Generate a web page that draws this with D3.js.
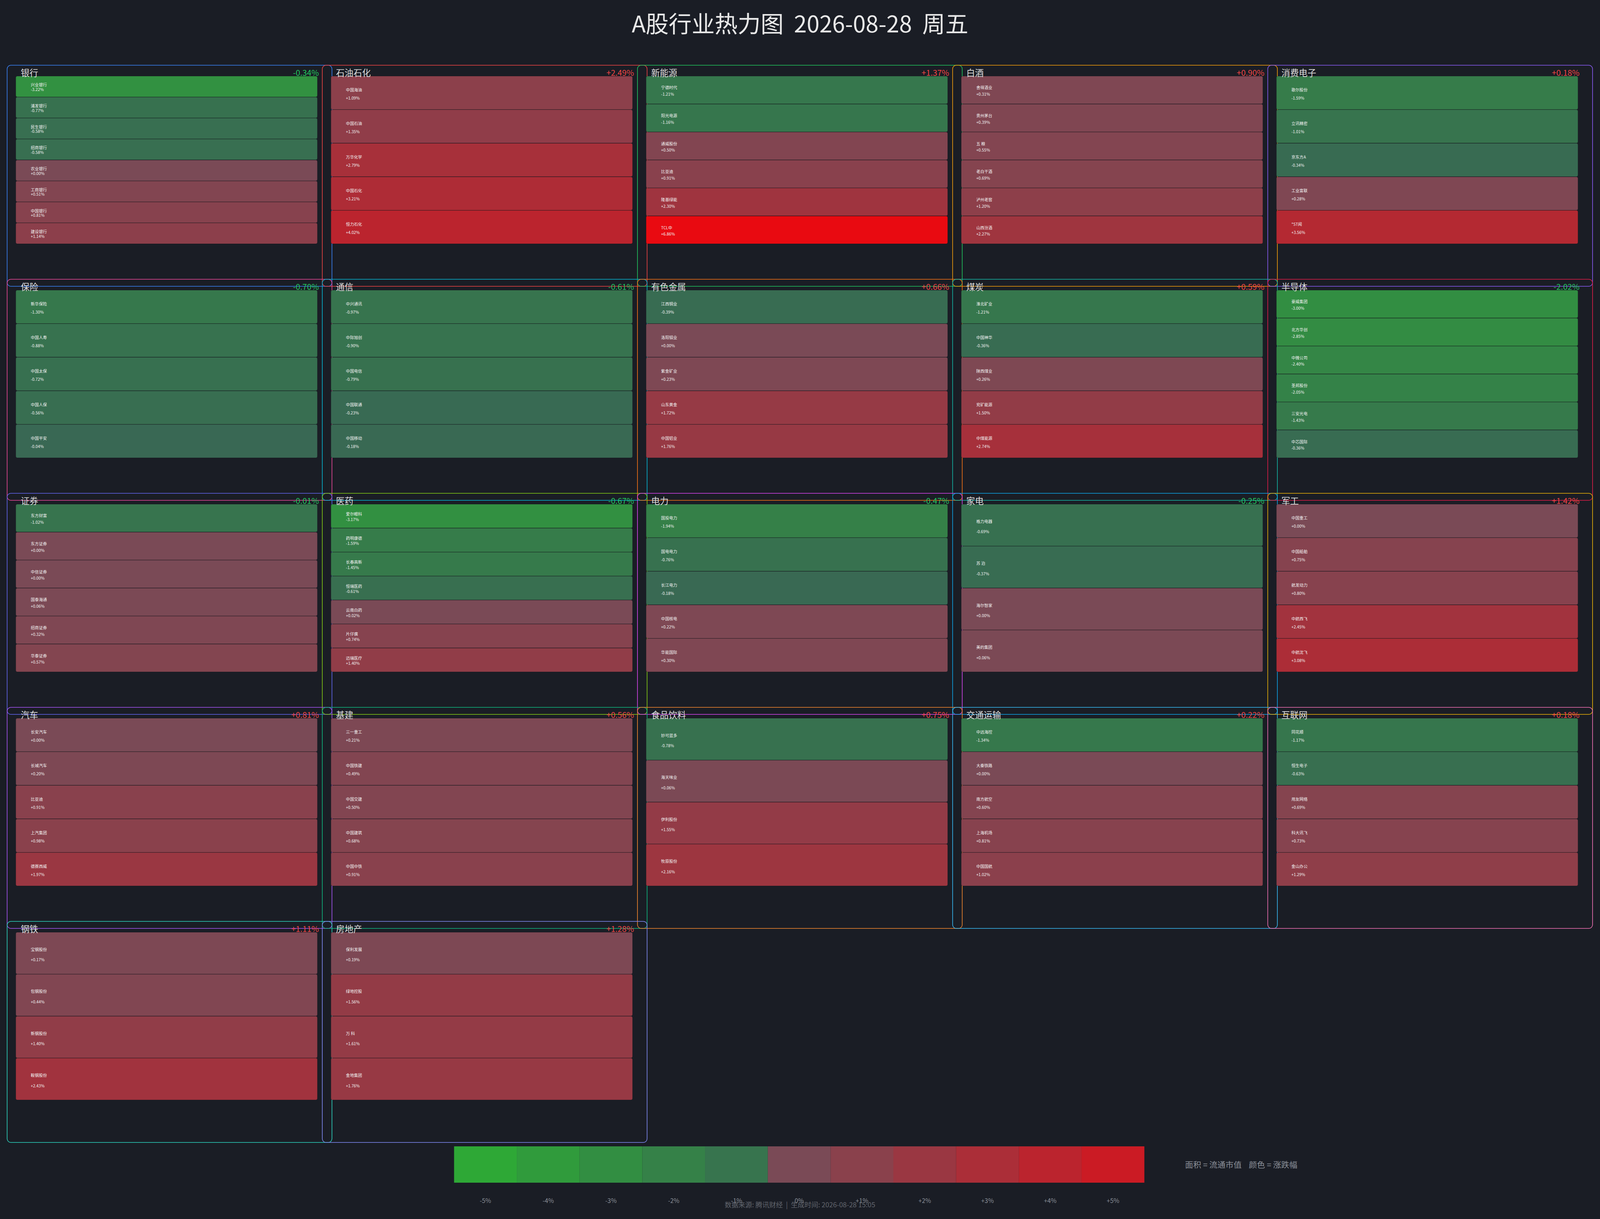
<!DOCTYPE html>
<html>
<head>
<meta charset="utf-8">
<script src="https://cdn.jsdelivr.net/npm/d3@7"></script>
<style>
    html, body { margin:0; padding:0; background:#1a1d25; overflow:hidden; }
    svg { display:block; width:100vw; height:100vh; font-family:"Noto Sans CJK SC","Noto Sans",sans-serif; }
</style>
</head>
<body>
<svg id="chart"></svg>
<script>
// sectors, row by row, 5 per row
var sectorNames = ["银行","石油石化","新能源","白酒","消费电子",
    "保险","通信","有色金属","煤炭","半导体",
    "证券","医药","电力","家电","军工",
    "汽车","基建","食品饮料","交通运输","互联网",
    "钢铁","房地产"];

var sectorChanges = [-0.34, 2.49, 1.37, 0.90, 0.18,
    -0.70, -0.61, 0.66, 0.59, -2.02,
    -0.01, -0.67, -0.47, -0.25, 1.42,
    0.81, 0.56, 0.75, 0.22, 0.18,
    1.11, 1.28];

var stockNames = [
    ["兴业银行","浦发银行","民生银行","招商银行","农业银行","工商银行","中国银行","建设银行"],
    ["中国海油","中国石油","万华化学","中国石化","恒力石化"],
    ["宁德时代","阳光电源","通威股份","比亚迪","隆基绿能","TCL中"],
    ["舍得酒业","贵州茅台","五 粮","老白干酒","泸州老窖","山西汾酒"],
    ["歌尔股份","立讯精密","京东方A","工业富联","*ST闻"],
    ["新华保险","中国人寿","中国太保","中国人保","中国平安"],
    ["中兴通讯","中际旭创","中国电信","中国联通","中国移动"],
    ["江西铜业","洛阳钼业","紫金矿业","山东黄金","中国铝业"],
    ["淮北矿业","中国神华","陕西煤业","兖矿能源","中煤能源"],
    ["豪威集团","北方华创","中微公司","圣邦股份","三安光电","中芯国际"],
    ["东方财富","东方证券","中信证券","国泰海通","招商证券","华泰证券"],
    ["爱尔眼科","药明康德","长春高新","恒瑞医药","云南白药","片仔癀","迈瑞医疗"],
    ["国投电力","国电电力","长江电力","中国核电","华能国际"],
    ["格力电器","苏 泊","海尔智家","美的集团"],
    ["中国重工","中国船舶","航发动力","中航西飞","中航沈飞"],
    ["长安汽车","长城汽车","比亚迪","上汽集团","德赛西威"],
    ["三一重工","中国铁建","中国交建","中国建筑","中国中铁"],
    ["妙可蓝多","海天味业","伊利股份","牧原股份"],
    ["中远海控","大秦铁路","南方航空","上海机场","中国国航"],
    ["同花顺","恒生电子","用友网络","科大讯飞","金山办公"],
    ["宝钢股份","包钢股份","新钢股份","鞍钢股份"],
    ["保利发展","绿地控股","万 科","金地集团"]
];

var stockChanges = [
    [-3.22, -0.77, -0.58, -0.58, 0.00, 0.51, 0.81, 1.14],
    [1.09, 1.35, 2.79, 3.21, 4.02],
    [-1.21, -1.16, 0.50, 0.91, 2.30, 6.86],
    [0.31, 0.39, 0.55, 0.69, 1.20, 2.27],
    [-1.59, -1.01, -0.34, 0.28, 3.56],
    [-1.30, -0.88, -0.72, -0.56, -0.04],
    [-0.97, -0.90, -0.79, -0.23, -0.18],
    [-0.39, 0.00, 0.23, 1.72, 1.76],
    [-1.21, -0.36, 0.26, 1.50, 2.74],
    [-3.00, -2.85, -2.40, -2.05, -1.43, -0.36],
    [-1.02, 0.00, 0.00, 0.06, 0.32, 0.57],
    [-3.17, -1.59, -1.45, -0.61, 0.02, 0.74, 1.40],
    [-1.94, -0.76, -0.18, 0.22, 0.30],
    [-0.69, -0.37, 0.00, 0.06],
    [0.00, 0.75, 0.80, 2.45, 3.08],
    [0.00, 0.20, 0.91, 0.98, 1.97],
    [0.21, 0.49, 0.50, 0.68, 0.91],
    [-0.78, 0.06, 1.55, 2.16],
    [-1.34, 0.00, 0.60, 0.81, 1.02],
    [-1.17, -0.63, 0.69, 0.73, 1.29],
    [0.17, 0.44, 1.40, 2.43],
    [0.19, 1.56, 1.61, 1.76]
];

var legendTicks = [-5, -4, -3, -2, -1, 0, 1, 2, 3, 4, 5];

var titleText = "A股行业热力图  2026-08-28  周五";
var footerText = "数据来源: 腾讯财经  |  生成时间: 2026-08-28 15:05";
var legendNote = "面积 = 流通市值    颜色 = 涨跌幅";

// border colour per sector panel
var borderColors = ["#3b82f6","#ef4444","#22c55e","#f59e0b","#8b5cf6",
    "#ec4899","#06b6d4","#f97316","#14b8a6","#e11d48",
    "#6366f1","#84cc16","#d946ef","#0ea5e9","#eab308",
    "#a855f7","#10b981","#f7882f","#38bdf8","#f472b6",
    "#2dd4bf","#818cf8"];

var screen = {width:5148, height:3121};
var grid = {left:23, top:167, stepX:1014, stepY:548, panelW:1045, panelH:566, cols:5};
var inner = {left:28, top:28, width:970, height:429};

// keep the page filling the window: x follows the width, y is spread over the real height
var viewH = screen.width * window.innerHeight / window.innerWidth;
var yPos = d3.scaleLinear().domain([0, screen.height]).range([0, viewH]);

var greenScale = d3.scaleLinear().domain([0,-5]).range(["#396754","#2ea836"]);
var redScale = d3.scaleLinear().domain([0,5]).range(["#7a4a56","#cb1b24"]);
var colorOf = function(p)
{
    return p < 0 ? greenScale(p) : redScale(p);
};

var fmt = function(p)
{
    return (p >= 0 ? "+" : "") + p.toFixed(2) + "%";
};

var colX = d3.scaleLinear().domain([0,1]).range([grid.left, grid.left+grid.stepX]);
var rowY = d3.scaleLinear().domain([0,1]).range([yPos(grid.top), yPos(grid.top+grid.stepY)]);

var svg = d3.select("#chart")
    .attr("viewBox", "0 0 "+screen.width+" "+viewH)
    .attr("preserveAspectRatio", "xMidYMid meet");

svg.append("text")
    .attr("x", screen.width/2)
    .attr("y", yPos(57))
    .attr("dominant-baseline", "central")
    .attr("text-anchor", "middle")
    .attr("fill", "#e8e8e8")
    .attr("font-size", 74)
    .style("white-space", "pre")
    .text(titleText);

var sectors = sectorNames.map(function(name, i)
{
    return {
        name:name,
        change:sectorChanges[i],
        color:borderColors[i],
        x:colX(i % grid.cols),
        y:rowY(Math.floor(i / grid.cols)),
        stocks:stockNames[i].map(function(s, j) { return {name:s, change:stockChanges[i][j]}; })
    };
});

// panel borders first, everything else on top
svg.append("g")
    .selectAll("rect")
    .data(sectors)
    .enter()
    .append("rect")
    .attr("x", function(d) { return d.x; })
    .attr("y", function(d) { return d.y; })
    .attr("width", grid.panelW)
    .attr("height", yPos(grid.panelH))
    .attr("rx", 12)
    .attr("ry", 12)
    .attr("fill", "none")
    .attr("stroke", function(d) { return d.color; })
    .attr("stroke-width", 2);

var treemap = d3.treemap()
    .tile(d3.treemapSlice)
    .size([inner.width, yPos(inner.height)])
    .paddingInner(1);

var panels = svg.append("g")
    .selectAll("g")
    .data(sectors)
    .enter()
    .append("g")
    .attr("transform", function(d) { return "translate("+(d.x+inner.left)+","+(d.y+yPos(inner.top))+")"; });

panels.each(function(sector)
{
    // every stock gets the same area in the picture
    var root = d3.hierarchy({children:sector.stocks}).sum(function(d) { return d.children ? 0 : 1; });
    treemap(root);

    var leaves = d3.select(this)
        .selectAll("g.leaf")
        .data(root.leaves())
        .enter()
        .append("g")
        .classed("leaf", true);

    leaves.append("rect")
        .attr("x", function(d) { return d.x0; })
        .attr("y", function(d) { return d.y0; })
        .attr("width", function(d) { return d.x1 - d.x0; })
        .attr("height", function(d) { return d.y1 - d.y0; })
        .attr("rx", 5)
        .attr("ry", 5)
        .attr("fill", function(d) { return colorOf(d.data.change); })
        .attr("stroke", "rgba(0,0,0,0.18)")
        .attr("stroke-width", 1);

    leaves.append("text")
        .attr("x", function(d) { return d.x0 + 48; })
        .attr("y", function(d) { return d.y0 + 0.404*(d.y1-d.y0) + 0.4; })
        .attr("dominant-baseline", "central")
        .attr("fill", "#f2f2f2")
        .attr("font-size", 13)
        .style("white-space", "pre")
        .text(function(d) { return d.data.name; });

    leaves.append("text")
        .attr("x", function(d) { return d.x0 + 48; })
        .attr("y", function(d) { return d.y0 + 0.683*(d.y1-d.y0) - 3.6; })
        .attr("dominant-baseline", "central")
        .attr("fill", "#f2f2f2")
        .attr("font-size", 13)
        .text(function(d) { return fmt(d.data.change); });
});

// sector headers
var headers = svg.append("g")
    .selectAll("g")
    .data(sectors)
    .enter()
    .append("g");

headers.append("text")
    .attr("x", function(d) { return d.x + 44; })
    .attr("y", function(d) { return d.y + yPos(28); })
    .attr("fill", "#dedede")
    .attr("font-size", 28)
    .text(function(d) { return d.name; });

headers.append("text")
    .attr("x", function(d) { return d.x + 1003; })
    .attr("y", function(d) { return d.y + yPos(27); })
    .attr("text-anchor", "end")
    .attr("fill", function(d) { return d.change < 0 ? "#22c55e" : "#ef4444"; })
    .attr("font-size", 26)
    .text(function(d) { return fmt(d.change); });

// legend
var legendX = d3.scaleBand()
    .domain(legendTicks)
    .range([1461, 3682]);

var legend = svg.append("g");

legend.selectAll("rect")
    .data(legendTicks)
    .enter()
    .append("rect")
    .attr("x", function(d) { return legendX(d); })
    .attr("y", yPos(2935))
    .attr("width", legendX.bandwidth())
    .attr("height", yPos(93))
    .attr("fill", function(d) { return colorOf(d); });

legend.selectAll("text.tick")
    .data(legendTicks)
    .enter()
    .append("text")
    .classed("tick", true)
    .attr("x", function(d) { return legendX(d) + legendX.bandwidth()/2; })
    .attr("y", yPos(3073))
    .attr("dominant-baseline", "central")
    .attr("text-anchor", "middle")
    .attr("fill", "#8a8f98")
    .attr("font-size", 20)
    .text(function(d) { return (d > 0 ? "+" : "") + d + "%"; });

legend.append("text")
    .attr("x", 3813)
    .attr("y", yPos(2981))
    .attr("dominant-baseline", "central")
    .attr("fill", "#8a8f98")
    .attr("font-size", 26)
    .style("white-space", "pre")
    .text(legendNote);

svg.append("text")
    .attr("x", screen.width/2)
    .attr("y", yPos(3083))
    .attr("dominant-baseline", "central")
    .attr("text-anchor", "middle")
    .attr("fill", "#62666e")
    .attr("font-size", 22)
    .style("white-space", "pre")
    .text(footerText);
</script>
</body>
</html>
